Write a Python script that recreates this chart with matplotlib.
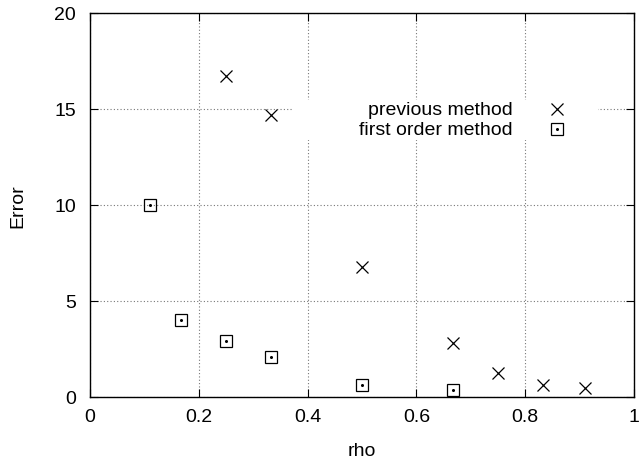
import matplotlib
matplotlib.use("Agg")
import matplotlib.pyplot as plt
from matplotlib.patches import Rectangle

plt.rcParams['font.family'] = ['Liberation Sans', 'DejaVu Sans']

# previous method
rho_prev = [1/4, 1/3, 1/2, 2/3, 3/4, 5/6, 0.91]
err_prev = [16.7, 14.7, 6.75, 2.8, 1.27, 0.65, 0.48]

# first order method
rho_first = [1/9, 1/6, 1/4, 1/3, 1/2, 2/3]
err_first = [10.0, 4.02, 2.9, 2.1, 0.62, 0.37]

xticks = [0, 0.2, 0.4, 0.6, 0.8, 1]
xticklabels = ['0', '0.2', '0.4', '0.6', '0.8', '1']
yticks = [0, 5, 10, 15, 20]

fig = plt.figure(figsize=(6.39, 4.64), dpi=100)
ax = fig.add_axes([90/639, 1 - 398/464, (634-90)/639, (398-14)/464])

ax.plot(rho_prev, err_prev, linestyle='none', marker='x', color='black',
        markersize=8.6, markeredgewidth=0.9, zorder=5)
ax.plot(rho_first, err_first, linestyle='none', marker='s', markerfacecolor='none',
        markeredgecolor='black', markersize=8.4, markeredgewidth=0.9, zorder=5)
ax.plot(rho_first, err_first, linestyle='none', marker='o', color='black',
        markersize=1.2, zorder=5)

ax.set_xlim(0, 1)
ax.set_ylim(0, 20)
ax.set_xticks(xticks)
ax.set_xticklabels(xticklabels)
ax.set_yticks(yticks)
ax.tick_params(direction='in', top=True, right=True, length=6, width=0.8,
               labelsize=14, colors='black')
ax.tick_params(axis='x', pad=8)
ax.tick_params(axis='y', pad=10)
ax.grid(True, color='#777777', linestyle=(0, (1, 2)), linewidth=0.8)
for s in ax.spines.values():
    s.set_linewidth(1.0)
ax.set_xlabel('rho', fontsize=14, labelpad=12)
ax.set_ylabel('Error', fontsize=14, labelpad=20)

# key, gnuplot-like (white box over the grid)
ax.add_patch(Rectangle((0.373, 0.668), 0.561, 0.105, transform=ax.transAxes,
                       facecolor='white', edgecolor='none', zorder=3))
ax.text(0.777, 0.738, 'previous method', transform=ax.transAxes, ha='right',
        va='baseline', fontsize=14, zorder=6)
ax.text(0.777, 0.684, 'first order method', transform=ax.transAxes, ha='right',
        va='baseline', fontsize=14, zorder=6)
ax.plot([0.858], [0.750], transform=ax.transAxes, marker='x', color='black',
        markersize=8.6, markeredgewidth=0.9, linestyle='none', zorder=6)
ax.plot([0.858], [0.697], transform=ax.transAxes, marker='s', markerfacecolor='none',
        markeredgecolor='black', markersize=8.4, markeredgewidth=0.9, linestyle='none', zorder=6)
ax.plot([0.858], [0.697], transform=ax.transAxes, marker='o', color='black',
        markersize=1.2, linestyle='none', zorder=6)

fig.savefig('out.png', dpi=100)
